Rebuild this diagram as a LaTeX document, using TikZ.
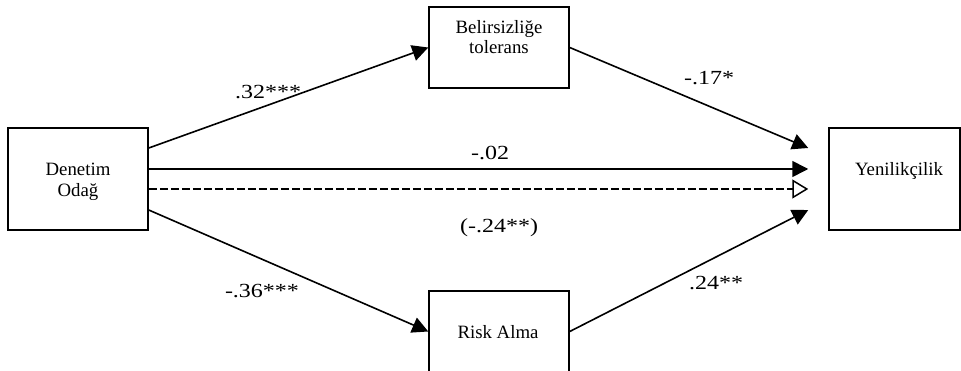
\documentclass[tikz,border=0pt]{standalone}
\usepackage{fontspec}
\setmainfont{Liberation Serif}
\newfontfamily\lblfont[FakeStretch=1.2]{Liberation Serif}
\usetikzlibrary{arrows.meta,calc}
\begin{document}
\begin{tikzpicture}[x=1pt,y=-1pt,
  box/.style={draw, line width=1.5pt, inner sep=0pt, anchor=center},
  txt/.style={font=\fontsize{18.8}{20.5}\selectfont, align=center, inner sep=0pt},
  lbl/.style={font=\lblfont\fontsize{20}{24}\selectfont, inner sep=0pt, anchor=base},
  conn/.style={line width=1.6pt, -{Triangle[length=16pt,width=16pt]}},
  dashconn/.style={line width=2.6pt, dash pattern=on 8pt off 3pt,
    -{Triangle[open,length=16pt,width=19pt,line width=1.5pt]}}]
\useasboundingbox (0,0) rectangle (961,371);
\clip (0,0) rectangle (961,371);
% boxes
\node[box, minimum width=140pt, minimum height=102pt] (D) at (78,179) {};
\node[box, minimum width=131pt, minimum height=102pt] (Y) at (894.5,179) {};
\node[box, minimum width=140pt, minimum height=81pt] (B) at (499,47.5) {};
\node[box, minimum width=140pt, minimum height=81pt] (R) at (499,331.5) {};
% box texts
\node[txt] (Dt) at (78,182) {Denetim\\Oda\u{g}};
\node[txt, anchor=base] (Yt) at (899,176) {Yenilikçilik};
\node[txt] (Bt) at (499,37) {Belirsizliğe\\tolerans};
\node[txt, anchor=base] (Rt) at (498,338) {Risk Alma};
% connector end points
\coordinate (d1) at ($(D.east)+(0,-31)$);
\coordinate (d2) at ($(D.east)+(0,-10)$);
\coordinate (d3) at ($(D.east)+(0,10)$);
\coordinate (d4) at ($(D.east)+(0,31)$);
\coordinate (y1) at ($(Y.west)+(-20,-31)$);
\coordinate (y2) at ($(Y.west)+(-20,-10)$);
\coordinate (y3) at ($(Y.west)+(-20,10)$);
\coordinate (y4) at ($(Y.west)+(-20,31)$);
% connectors
\draw[conn] (d1) -- (B.west);
\draw[conn] (B.east) -- (y1);
\draw[conn] (d2) -- (y2);
\draw[dashconn] (d3) -- (y3);
\draw[conn] (d4) -- (R.west);
\draw[conn] (R.east) -- (y4);
% labels
\node[lbl] (l1) at (268,99) {.32***};
\node[lbl] (l2) at (709,85) {-.17*};
\node[lbl] (l3) at (490,160) {-.02};
\node[lbl] (l4) at (499,233) {(-.24**)};
\node[lbl] (l5) at (262,298) {-.36***};
\node[lbl] (l6) at (716,290) {.24**};
\end{tikzpicture}
\end{document}
